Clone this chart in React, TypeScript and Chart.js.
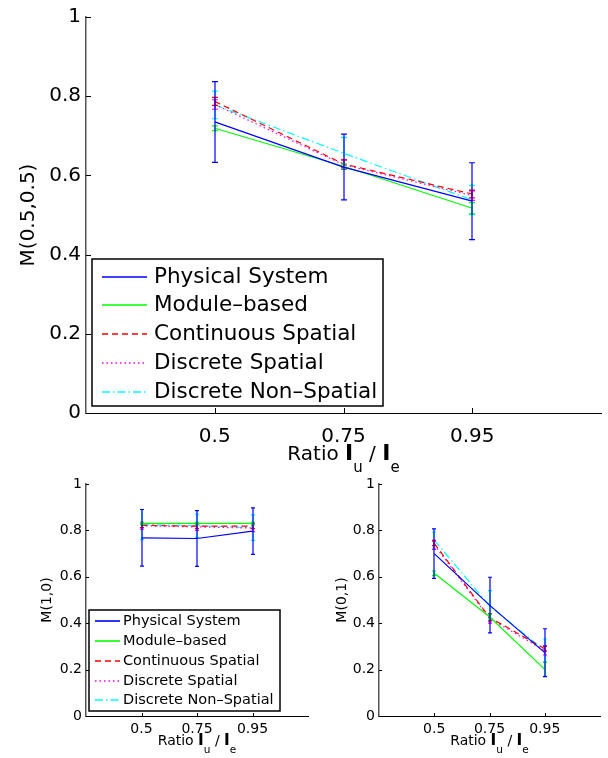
import React, { useEffect, useRef } from 'react';
import { Chart, registerables } from 'chart.js';

Chart.register(...registerables);

// ---------- data ----------
const categories = ['0.5', '0.75', '0.95'];
const yTickValues = [0, 0.2, 0.4, 0.6, 0.8, 1];
const seriesNames = ['Physical System', 'Module\u2013based', 'Continuous Spatial', 'Discrete Spatial', 'Discrete Non\u2013Spatial'];

// M(0.5,0.5)
const m55Physical = [0.735, 0.621, 0.535];
const m55PhysicalErr = [0.102, 0.083, 0.097];
const m55Module = [0.719, 0.623, 0.517];
const m55ModuleErr = [0.006, 0.006, 0.014];
const m55Continuous = [0.787, 0.629, 0.553];
const m55ContinuousErr = [0.01, 0.01, 0.01];
const m55DiscreteSpatial = [0.779, 0.627, 0.549];
const m55DiscreteSpatialErr = [0.012, 0.012, 0.012];
const m55NonSpatial = [0.778, 0.656, 0.538];
const m55NonSpatialErr = [0.035, 0.04, 0.037];

// M(1,0)
const m10Physical = [0.768, 0.765, 0.797];
const m10PhysicalErr = [0.122, 0.12, 0.1];
const m10Module = [0.83, 0.83, 0.83];
const m10ModuleErr = [0.005, 0.005, 0.005];
const m10Continuous = [0.822, 0.818, 0.818];
const m10ContinuousErr = [0.01, 0.01, 0.01];
const m10DiscreteSpatial = [0.82, 0.815, 0.81];
const m10DiscreteSpatialErr = [0.015, 0.015, 0.015];
const m10NonSpatial = [0.825, 0.82, 0.812];
const m10NonSpatialErr = [0.065, 0.05, 0.055];

// M(0,1)
const m01Physical = [0.7, 0.478, 0.273];
const m01PhysicalErr = [0.107, 0.12, 0.103];
const m01Module = [0.615, 0.428, 0.201];
const m01ModuleErr = [0.01, 0.01, 0.03];
const m01Continuous = [0.744, 0.425, 0.29];
const m01ContinuousErr = [0.01, 0.015, 0.01];
const m01DiscreteSpatial = [0.738, 0.42, 0.283];
const m01DiscreteSpatialErr = [0.02, 0.02, 0.02];
const m01NonSpatial = [0.758, 0.475, 0.282];
const m01NonSpatialErr = [0.035, 0.065, 0.05];

// ---------- styles ----------
const FONT = '"DejaVu Sans", sans-serif';
const seriesColors = ['#0000ff', '#00ff00', '#ff0000', '#ff00ff', '#00ffff'];
const seriesDashes: number[][] = [[], [], [6, 4], [1.5, 3], [8, 3, 1.5, 3]];
const W = 608;
const H = 758;

type Series = { values: number[]; errs: number[] };
type PanelCfg = {
  area: { left: number; top: number; right: number; bottom: number };
  yW: number;
  xH: number;
  tickSize: number;
  tickLen: number;
  cap: number;
  yPad: number;
  xPad: number;
  yTitle: string;
  yTitleX: number;
  titleSize: number;
  xTitleBaseline: number;
  series: Series[];
  legend: null | {
    box: { left: number; top: number; right: number; bottom: number };
    rows: number[];
    sample: [number, number];
    textX: number;
    size: number;
  };
};

const PANELS: PanelCfg[] = [
  {
    area: { left: 86, top: 13, right: 601, bottom: 413 },
    yW: 60, xH: 40, tickSize: 20, tickLen: 5, cap: 3, yPad: 5, xPad: 12,
    yTitle: 'M(0.5,0.5)', yTitleX: 29, titleSize: 20, xTitleBaseline: 460,
    series: [
      { values: m55Physical, errs: m55PhysicalErr },
      { values: m55Module, errs: m55ModuleErr },
      { values: m55Continuous, errs: m55ContinuousErr },
      { values: m55DiscreteSpatial, errs: m55DiscreteSpatialErr },
      { values: m55NonSpatial, errs: m55NonSpatialErr },
    ],
    legend: {
      box: { left: 92, top: 259, right: 383, bottom: 406 },
      rows: [277, 305, 334, 363, 392],
      sample: [102, 147],
      textX: 154,
      size: 21.5,
    },
  },
  {
    area: { left: 86, top: 484, right: 308, bottom: 716 },
    yW: 40, xH: 30, tickSize: 14, tickLen: 3, cap: 2, yPad: 4, xPad: 5,
    yTitle: 'M(1,0)', yTitleX: 47, titleSize: 14, xTitleBaseline: 745,
    series: [
      { values: m10Physical, errs: m10PhysicalErr },
      { values: m10Module, errs: m10ModuleErr },
      { values: m10Continuous, errs: m10ContinuousErr },
      { values: m10DiscreteSpatial, errs: m10DiscreteSpatialErr },
      { values: m10NonSpatial, errs: m10NonSpatialErr },
    ],
    legend: {
      box: { left: 89, top: 610, right: 280, bottom: 711 },
      rows: [621, 641, 661, 681, 700],
      sample: [95, 120],
      textX: 123,
      size: 14.5,
    },
  },
  {
    area: { left: 379, top: 484, right: 600, bottom: 716 },
    yW: 40, xH: 30, tickSize: 14, tickLen: 3, cap: 2, yPad: 4, xPad: 5,
    yTitle: 'M(0,1)', yTitleX: 342, titleSize: 14, xTitleBaseline: 745,
    series: [
      { values: m01Physical, errs: m01PhysicalErr },
      { values: m01Module, errs: m01ModuleErr },
      { values: m01Continuous, errs: m01ContinuousErr },
      { values: m01DiscreteSpatial, errs: m01DiscreteSpatialErr },
      { values: m01NonSpatial, errs: m01NonSpatialErr },
    ],
    legend: null,
  },
];

function drawRatioTitle(ctx: CanvasRenderingContext2D, cx: number, baseline: number, size: number) {
  const sub = size * 0.75;
  const parts = [
    { t: 'Ratio ', f: `${size}px ${FONT}`, dy: 0 },
    { t: 'I', f: `bold ${size * 1.1}px ${FONT}`, dy: 0 },
    { t: 'u', f: `${sub}px ${FONT}`, dy: size * 0.6 },
    { t: ' / ', f: `${size}px ${FONT}`, dy: 0 },
    { t: 'I', f: `bold ${size * 1.1}px ${FONT}`, dy: 0 },
    { t: 'e', f: `${sub}px ${FONT}`, dy: size * 0.6 },
  ];
  let total = 0;
  const widths = parts.map((p) => {
    ctx.font = p.f;
    const w = ctx.measureText(p.t).width;
    total += w;
    return w;
  });
  let x = cx - total / 2;
  ctx.fillStyle = '#000';
  ctx.textAlign = 'left';
  ctx.textBaseline = 'alphabetic';
  parts.forEach((p, i) => {
    ctx.font = p.f;
    ctx.fillText(p.t, x, baseline + p.dy);
    x += widths[i];
  });
}

function makePlugin(cfg: PanelCfg) {
  return {
    id: 'panelDecor',
    afterDatasetDraw(chart: any, args: any) {
      const i = args.index;
      const s = cfg.series[i];
      const ctx: CanvasRenderingContext2D = chart.ctx;
      const xs = chart.scales.x;
      const ys = chart.scales.y;
      ctx.save();
      ctx.strokeStyle = seriesColors[i];
      ctx.lineWidth = 1.2;
      ctx.setLineDash([]);
      s.values.forEach((v, j) => {
        const e = s.errs[j];
        const x = Math.round(xs.getPixelForValue(j + 1));
        const y1 = ys.getPixelForValue(v + e);
        const y2 = ys.getPixelForValue(v - e);
        ctx.beginPath();
        ctx.moveTo(x, y1);
        ctx.lineTo(x, y2);
        ctx.moveTo(x - cfg.cap, y1);
        ctx.lineTo(x + cfg.cap, y1);
        ctx.moveTo(x - cfg.cap, y2);
        ctx.lineTo(x + cfg.cap, y2);
        ctx.stroke();
      });
      ctx.restore();
    },
    afterDraw(chart: any) {
      const ctx: CanvasRenderingContext2D = chart.ctx;
      const xs = chart.scales.x;
      const ys = chart.scales.y;
      const a = chart.chartArea;
      ctx.save();
      // inward tick marks
      ctx.strokeStyle = '#000';
      ctx.lineWidth = 1;
      ctx.setLineDash([]);
      ctx.beginPath();
      yTickValues.forEach((v) => {
        const y = Math.round(ys.getPixelForValue(v)) + 0.5;
        ctx.moveTo(a.left, y);
        ctx.lineTo(a.left + cfg.tickLen, y);
      });
      categories.forEach((_, j) => {
        const x = Math.round(xs.getPixelForValue(j + 1)) + 0.5;
        ctx.moveTo(x, a.bottom);
        ctx.lineTo(x, a.bottom - cfg.tickLen);
      });
      ctx.stroke();

      // y title
      ctx.save();
      ctx.translate(cfg.yTitleX, (a.top + a.bottom) / 2);
      ctx.rotate(-Math.PI / 2);
      ctx.font = `${cfg.titleSize}px ${FONT}`;
      ctx.fillStyle = '#000';
      ctx.textAlign = 'center';
      ctx.textBaseline = 'middle';
      ctx.fillText(cfg.yTitle, 0, 0);
      ctx.restore();

      // x title
      drawRatioTitle(ctx, (a.left + a.right) / 2, cfg.xTitleBaseline, cfg.titleSize);

      // legend
      const lg = cfg.legend;
      if (lg) {
        ctx.fillStyle = '#fff';
        ctx.fillRect(lg.box.left, lg.box.top, lg.box.right - lg.box.left, lg.box.bottom - lg.box.top);
        ctx.strokeStyle = '#000';
        ctx.lineWidth = 1.5;
        ctx.strokeRect(lg.box.left, lg.box.top, lg.box.right - lg.box.left, lg.box.bottom - lg.box.top);
        chart.data.datasets.forEach((ds: any, i: number) => {
          const y = lg.rows[i];
          ctx.strokeStyle = seriesColors[i];
          ctx.lineWidth = 1.6;
          ctx.setLineDash(seriesDashes[i]);
          ctx.beginPath();
          ctx.moveTo(lg.sample[0], y);
          ctx.lineTo(lg.sample[1], y);
          ctx.stroke();
          ctx.setLineDash([]);
          ctx.fillStyle = '#000';
          ctx.font = `${lg.size}px ${FONT}`;
          ctx.textAlign = 'left';
          ctx.textBaseline = 'middle';
          ctx.fillText(ds.label, lg.textX, lg.rows[i]);
        });
      }
      ctx.restore();
    },
  };
}

function buildConfig(cfg: PanelCfg): any {
  const a = cfg.area;
  return {
    type: 'line',
    data: {
      datasets: cfg.series.map((s, i) => ({
        label: seriesNames[i],
        data: s.values.map((v, j) => ({ x: j + 1, y: v })),
        borderColor: seriesColors[i],
        backgroundColor: seriesColors[i],
        borderWidth: 1.2,
        borderDash: seriesDashes[i],
        pointRadius: 0,
        fill: false,
        tension: 0,
      })),
    },
    options: {
      responsive: false,
      maintainAspectRatio: false,
      animation: false,
      devicePixelRatio: 1,
      events: [],
      layout: {
        padding: {
          left: a.left - cfg.yW,
          top: a.top,
          right: W - a.right,
          bottom: H - a.bottom - cfg.xH,
        },
      },
      plugins: { legend: { display: false }, tooltip: { enabled: false }, title: { display: false } },
      scales: {
        x: {
          type: 'linear',
          min: 0,
          max: 4,
          afterBuildTicks: (s: any) => {
            s.ticks = categories.map((_, j) => ({ value: j + 1 }));
          },
          afterFit: (s: any) => {
            s.height = cfg.xH;
          },
          ticks: {
            callback: (v: number) => categories[Math.round(v) - 1] ?? '',
            font: { family: FONT, size: cfg.tickSize },
            color: '#000',
            padding: cfg.xPad,
            maxRotation: 0,
            minRotation: 0,
            autoSkip: false,
          },
          grid: { display: false, drawTicks: false },
          border: { display: true, color: '#000', width: 1 },
        },
        y: {
          type: 'linear',
          min: 0,
          max: 1,
          afterBuildTicks: (s: any) => {
            s.ticks = yTickValues.map((v) => ({ value: v }));
          },
          afterFit: (s: any) => {
            s.width = cfg.yW;
          },
          ticks: {
            callback: (v: number) => String(v),
            font: { family: FONT, size: cfg.tickSize },
            color: '#000',
            padding: cfg.yPad,
            autoSkip: false,
          },
          grid: { display: false, drawTicks: false },
          border: { display: true, color: '#555', width: 1.5 },
        },
      },
    },
    plugins: [makePlugin(cfg)],
  };
}

function Panel({ cfg }: { cfg: PanelCfg }) {
  const ref = useRef<HTMLCanvasElement>(null);
  useEffect(() => {
    const chart = new Chart(ref.current as HTMLCanvasElement, buildConfig(cfg));
    return () => chart.destroy();
  }, [cfg]);
  return (
    <canvas
      ref={ref}
      width={W}
      height={H}
      style={{ position: 'absolute', left: 0, top: 0, width: W, height: H }}
    />
  );
}

export default function App() {
  return (
    <div style={{ position: 'absolute', left: 0, top: 0, width: W, height: H, background: '#fff', overflow: 'hidden' }}>
      {PANELS.map((p, i) => (
        <Panel key={i} cfg={p} />
      ))}
    </div>
  );
}
